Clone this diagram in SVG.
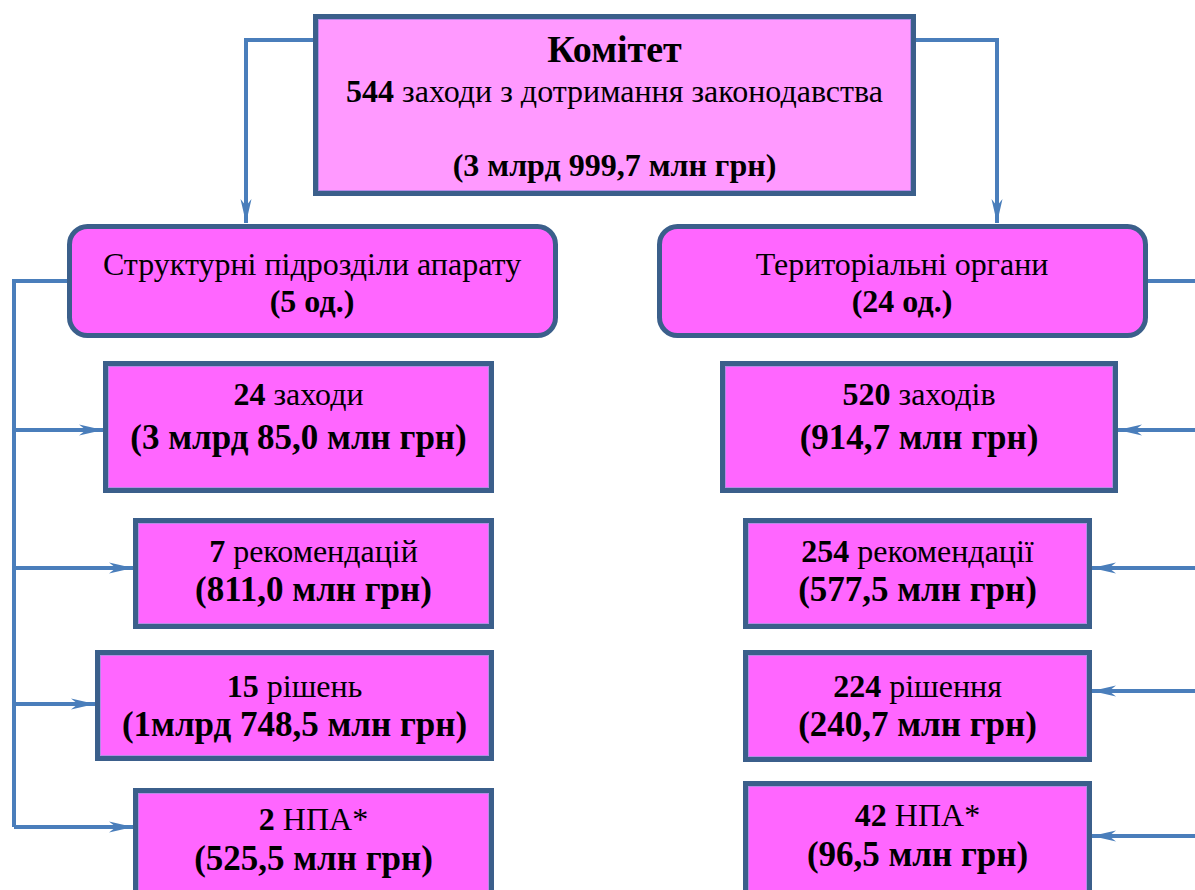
<svg xmlns="http://www.w3.org/2000/svg" width="1195" height="890" viewBox="0 0 1195 890">
<style>
.box{fill:#ff66ff;stroke:#3b5f8b;stroke-width:5}
.top{fill:#ff99ff;stroke:#3b5f8b;stroke-width:5}
.inner{fill:none;stroke:#b58ae6;stroke-width:1}
.con{fill:none;stroke:#4a7ebb;stroke-width:4}
text{font-family:"Liberation Serif","Times New Roman",serif;fill:#000;text-anchor:middle}
.r{font-size:32px}
.b{font-size:35px;font-weight:bold}
.b2{font-size:32px;font-weight:bold}
.h{font-size:38px;font-weight:bold}
tspan.bb{font-weight:bold}
</style>
<defs>
<marker id="arr" markerUnits="userSpaceOnUse" viewBox="0 -6 24 12" refX="24" refY="0" markerWidth="24" markerHeight="12" orient="auto">
<path d="M0,-5.5 L24,0 L0,5.5 L7,0 Z" fill="#4a7ebb"/>
</marker>
</defs>

<g id="connectors">
<path class="con" d="M313,40 H246 V223" marker-end="url(#arr)"/>
<path class="con" d="M916,40 H997 V223" marker-end="url(#arr)"/>
<path class="con" d="M68,281 H14 V827"/>
<path class="con" d="M14,430 H103" marker-end="url(#arr)"/>
<path class="con" d="M14,568 H133" marker-end="url(#arr)"/>
<path class="con" d="M14,704 H95" marker-end="url(#arr)"/>
<path class="con" d="M14,827 H133" marker-end="url(#arr)"/>
<path class="con" d="M1147,281 H1195"/>
<path class="con" d="M1195,430 H1118" marker-end="url(#arr)"/>
<path class="con" d="M1195,568 H1092" marker-end="url(#arr)"/>
<path class="con" d="M1195,691 H1092" marker-end="url(#arr)"/>
<path class="con" d="M1195,836 H1092" marker-end="url(#arr)"/>
</g>

<g id="committee">
<rect class="top" x="315.5" y="16.5" width="598" height="177"/>
<rect class="inner" x="318.5" y="19.5" width="592" height="171"/>
<text class="h" x="614.5" y="62">Комітет</text>
<text class="r" x="614.5" y="102"><tspan class="bb">544</tspan> заходи з дотримання законодавства</text>
<text class="b2" x="614.5" y="176">(3 млрд 999,7 млн грн)</text>
</g>

<g id="structural">
<rect class="box" x="69.5" y="226.5" width="486" height="109" rx="18"/>
<text class="r" x="312" y="275">Структурні підрозділи апарату</text>
<text class="b2" x="312" y="312">(5 од.)</text>
</g>

<g id="territorial">
<rect class="box" x="659.5" y="226.5" width="486" height="109" rx="18"/>
<text class="r" x="902" y="275">Територіальні органи</text>
<text class="b2" x="902" y="312">(24 од.)</text>
</g>

<g id="s1">
<rect class="box" x="105.5" y="363.5" width="386" height="127"/>
<rect class="inner" x="108.5" y="366.5" width="380" height="121"/>
<text class="r" x="298.5" y="405"><tspan class="bb">24</tspan> заходи</text>
<text class="b" x="298.5" y="449">(3 млрд 85,0 млн грн)</text>
</g>

<g id="s2">
<rect class="box" x="135.5" y="520.5" width="356" height="106"/>
<rect class="inner" x="138.5" y="523.5" width="350" height="100"/>
<text class="r" x="313.5" y="562"><tspan class="bb">7</tspan> рекомендацій</text>
<text class="b" x="313.5" y="601">(811,0 млн грн)</text>
</g>

<g id="s3">
<rect class="box" x="97.5" y="652.5" width="394" height="106"/>
<rect class="inner" x="100.5" y="655.5" width="388" height="100"/>
<text class="r" x="294.5" y="697"><tspan class="bb">15</tspan> рішень</text>
<text class="b" x="294.5" y="736">(1млрд 748,5 млн грн)</text>
</g>

<g id="s4">
<rect class="box" x="135.5" y="790.5" width="356" height="120"/>
<rect class="inner" x="138.5" y="793.5" width="350" height="114"/>
<text class="r" x="313.5" y="830"><tspan class="bb">2</tspan> НПА*</text>
<text class="b" x="313.5" y="870">(525,5 млн грн)</text>
</g>

<g id="t1">
<rect class="box" x="722.5" y="363.5" width="393" height="127"/>
<rect class="inner" x="725.5" y="366.5" width="387" height="121"/>
<text class="r" x="919" y="405"><tspan class="bb">520</tspan> заходів</text>
<text class="b" x="919" y="449">(914,7 млн грн)</text>
</g>

<g id="t2">
<rect class="box" x="745.5" y="520.5" width="344" height="106"/>
<rect class="inner" x="748.5" y="523.5" width="338" height="100"/>
<text class="r" x="917.5" y="562"><tspan class="bb">254</tspan> рекомендації</text>
<text class="b" x="917.5" y="601">(577,5 млн грн)</text>
</g>

<g id="t3">
<rect class="box" x="745.5" y="652.5" width="344" height="107"/>
<rect class="inner" x="748.5" y="655.5" width="338" height="101"/>
<text class="r" x="917.5" y="697"><tspan class="bb">224</tspan> рішення</text>
<text class="b" x="917.5" y="736">(240,7 млн грн)</text>
</g>

<g id="t4">
<rect class="box" x="745.5" y="783.5" width="344" height="127"/>
<rect class="inner" x="748.5" y="786.5" width="338" height="121"/>
<text class="r" x="917.5" y="826"><tspan class="bb">42</tspan> НПА*</text>
<text class="b" x="917.5" y="866">(96,5 млн грн)</text>
</g>
</svg>
